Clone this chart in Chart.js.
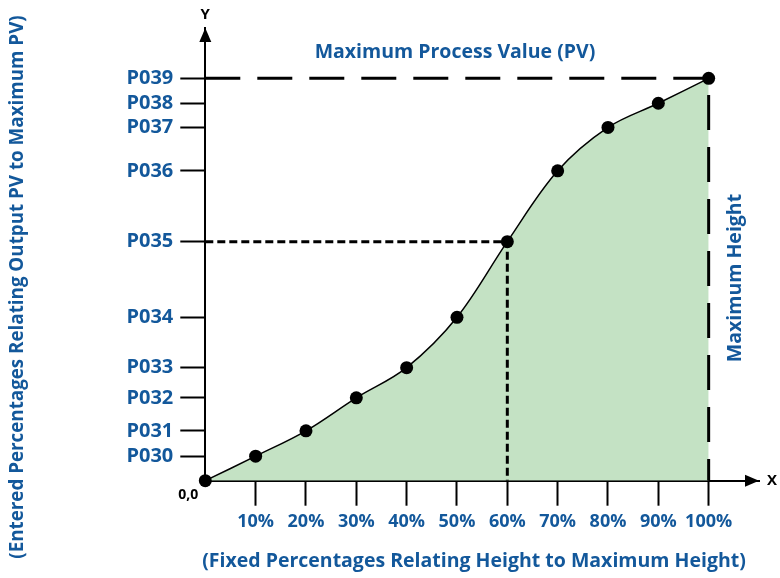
<!DOCTYPE html>
<html>
<head>
<meta charset="utf-8">
<script src="https://cdn.jsdelivr.net/npm/chart.js@4.4.1/dist/chart.umd.min.js"></script>
<style>
    html, body { margin: 0; padding: 0; background: #fff; }
</style>
</head>
<body>
<canvas id="chart" width="780" height="578"></canvas>
<script>
// fixed height percentages (x) and entered PV percentages (y)
const heightPct = [0, 10, 20, 30, 40, 50, 60, 70, 80, 90, 100];
const pvPct = [0, 6.1, 12.4, 20.6, 28.1, 40.6, 59.4, 77.0, 87.8, 93.8, 100];
const pvLabels = ['P030', 'P031', 'P032', 'P033', 'P034', 'P035', 'P036', 'P037', 'P038', 'P039'];
const xTickLabels = ['10%', '20%', '30%', '40%', '50%', '60%', '70%', '80%', '90%', '100%'];

const BLUE = '#13589b';
const FONT = "'Open Sans', sans-serif";

let points = heightPct.map((x, i) => ({x: x, y: pvPct[i]}));
let last = points[points.length - 1];
let mid = points[6];

let annotations = {
    id: 'annotations',
    afterDraw: function(chart) {
        let ctx = chart.ctx;
        let area = chart.chartArea;
        ctx.save();
        ctx.fillStyle = '#000';
        // arrow heads
        ctx.beginPath();
        ctx.moveTo(area.left, area.top);
        ctx.lineTo(area.left - 6, area.top + 14);
        ctx.lineTo(area.left + 6, area.top + 14);
        ctx.closePath();
        ctx.fill();
        ctx.beginPath();
        ctx.moveTo(area.right, area.bottom);
        ctx.lineTo(area.right - 14, area.bottom - 6);
        ctx.lineTo(area.right - 14, area.bottom + 6);
        ctx.closePath();
        ctx.fill();

        ctx.textAlign = 'center';
        ctx.textBaseline = 'middle';
        ctx.font = 'bold 15px ' + FONT;
        ctx.fillText('Y', area.left, 15);
        ctx.fillText('X', area.right + 13, area.bottom);
        ctx.font = 'bold 14px ' + FONT;
        ctx.fillText('0,0', area.left - 17, area.bottom + 14);

        ctx.fillStyle = BLUE;
        ctx.font = 'bold 19.5px ' + FONT;
        ctx.fillText('Maximum Process Value (PV)', 455, 52);
        ctx.fillText('(Fixed Percentages Relating Height to Maximum Height)', 474, 561);

        ctx.save();
        ctx.translate(735, 278);
        ctx.rotate(-Math.PI / 2);
        ctx.fillText('Maximum Height', 0, 0);
        ctx.restore();

        ctx.save();
        ctx.font = 'bold 18.8px ' + FONT;
        ctx.translate(18, 287);
        ctx.rotate(-Math.PI / 2);
        ctx.fillText('(Entered Percentages Relating Output PV to Maximum PV)', 0, 0);
        ctx.restore();
        ctx.restore();
    }
};

let chart = new Chart(document.getElementById('chart'), {
    type: 'line',
    data: {
        datasets: [
            {
                // long dashes at maximum PV / maximum height
                data: [{x: 0, y: last.y}, {x: last.x, y: last.y}, {x: last.x, y: 0}],
                borderColor: '#000',
                borderWidth: 3,
                borderDash: [35, 17],
                pointRadius: 0,
                fill: false,
                order: 0,
            },
            {
                // short dashes at 60%
                data: [{x: 0, y: mid.y}, {x: mid.x, y: mid.y}, {x: mid.x, y: 0}],
                borderColor: '#000',
                borderWidth: 3,
                borderDash: [8, 4],
                pointRadius: 0,
                fill: false,
                order: 0,
            },
            {
                data: points,
                borderColor: '#000',
                borderWidth: 1.5,
                backgroundColor: '#c4e2c4',
                fill: 'origin',
                tension: 0.35,
                pointRadius: 6.5,
                pointBackgroundColor: '#000',
                pointBorderWidth: 0,
                clip: false,
                order: 1,
            }
        ]
    },
    options: {
        responsive: false,
        animation: false,
        events: [],
        layout: {
            padding: {left: 0, top: 28, right: 21, bottom: 0}
        },
        plugins: {
            legend: {display: false},
            tooltip: {enabled: false},
        },
        scales: {
            x: {
                type: 'linear',
                min: 0,
                max: 110,
                afterBuildTicks: function(scale) {
                    scale.ticks = heightPct.slice(1).map(v => ({value: v}));
                },
                afterFit: function(scale) {
                    scale.height = 97.3;
                },
                border: {display: true, color: '#000', width: 2},
                grid: {
                    drawOnChartArea: false,
                    drawTicks: true,
                    tickLength: 25,
                    tickWidth: 2,
                    tickColor: '#000',
                },
                ticks: {
                    padding: 5,
                    maxRotation: 0,
                    autoSkip: false,
                    color: BLUE,
                    font: {family: FONT, size: 18, weight: 'bold'},
                    callback: (v, i) => xTickLabels[i],
                }
            },
            y: {
                type: 'linear',
                min: 0,
                max: 112.5,
                afterBuildTicks: function(scale) {
                    scale.ticks = pvPct.slice(1).map(v => ({value: v}));
                },
                afterFit: function(scale) {
                    scale.width = 205.3;
                },
                border: {display: true, color: '#000', width: 2},
                grid: {
                    drawOnChartArea: false,
                    drawTicks: true,
                    tickLength: 25,
                    tickWidth: 2,
                    tickColor: '#000',
                },
                ticks: {
                    padding: 7,
                    autoSkip: false,
                    color: BLUE,
                    font: {family: FONT, size: 20, weight: 'bold'},
                    callback: (v, i) => pvLabels[i],
                }
            }
        }
    },
    plugins: [annotations]
});
</script>
</body>
</html>
